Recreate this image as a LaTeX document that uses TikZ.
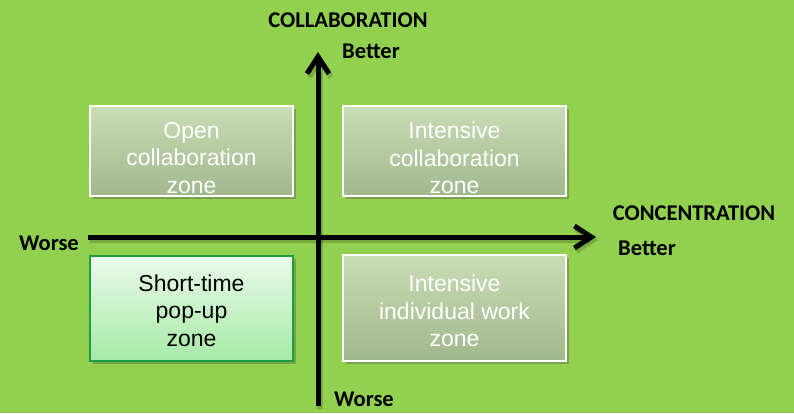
\documentclass[tikz,border=0pt]{standalone}
\usepackage{fontspec}
\setmainfont{Liberation Sans}
\newfontfamily\calfont{Carlito}
\usetikzlibrary{arrows.meta,shadows,calc}
\definecolor{bggreen}{HTML}{92D050}
\definecolor{ztop}{HTML}{CADDB6}
\definecolor{zbot}{HTML}{A1B78C}
\definecolor{stop}{HTML}{EAFAEA}
\definecolor{sbot}{HTML}{A6EAA6}
\definecolor{sborder}{HTML}{1E9E3E}
\tikzset{
  zone/.style={draw=white, line width=1.5pt, top color=ztop, bottom color=zbot,
    drop shadow={shadow xshift=3pt, shadow yshift=-3pt, opacity=0.35, fill=black!70}},
  popzone/.style={draw=sborder, line width=1.5pt, top color=stop, bottom color=sbot,
    drop shadow={shadow xshift=3pt, shadow yshift=-3pt, opacity=0.35, fill=black!70}},
  ztext/.style={align=center, font=\fontsize{23}{27.5}\selectfont, text=white},
  ptext/.style={align=center, font=\fontsize{23}{27.5}\selectfont, text=black},
  axis/.style={line width=5pt, -{Straight Barb[length=17pt,width=22pt,line width=5pt]}},
  axshadow/.style={line width=5.5pt, draw=black, opacity=0.18, -{Straight Barb[length=17pt,width=22pt,line width=5.5pt]}},
  lbl/.style={font=\calfont\bfseries\fontsize{22.5}{26}\selectfont, inner sep=0pt},
}
\begin{document}
\begin{tikzpicture}[x=1pt,y=-1pt]
\fill[bggreen] (0,0) rectangle (794,413);
\useasboundingbox (0,0) rectangle (794,413);

\node[zone, minimum width=203pt, minimum height=90pt, inner sep=0pt] (b1) at (191.5,151) {};
\node[zone, minimum width=223pt, minimum height=90pt, inner sep=0pt] (b2) at (454.5,151) {};
\node[popzone, minimum width=203pt, minimum height=105pt, inner sep=0pt] (b3) at (191.5,308.5) {};
\node[zone, minimum width=223pt, minimum height=106pt, inner sep=0pt] (b4) at (454.5,308) {};

\node[ztext] (t1) at ($(b1.center)+(0,7)$) {Open\\collaboration\\zone};
\node[ztext] (t2) at ($(b2.center)+(0,7)$) {Intensive\\collaboration\\zone};
\node[ptext] (t3) at ($(b3.center)+(0,2)$) {Short-time\\pop-up\\zone};
\node[ztext] (t4) at ($(b4.center)+(0,3)$) {Intensive\\individual work\\zone};

\coordinate (hl) at (88,237);
\coordinate (hr) at (596,237);
\coordinate (vb) at (318,406);
\coordinate (vt) at (318,52);
\draw[axshadow] ($(hl)+(2,3)$) -- ($(hr)+(2,3)$);
\draw[axshadow] ($(vb)+(2,3)$) -- ($(vt)+(2,3)$);
\draw[axis] (hl) -- (hr);
\draw[axis] (vb) -- (vt);

\node[lbl] (collab) at (348,20) {COLLABORATION};
\node[lbl] (bt) at (371,51) {Better};
\node[lbl] (conc) at (694,213) {CONCENTRATION};
\node[lbl] (br) at (647,248) {Better};
\node[lbl] (wl) at (49,243) {Worse};
\node[lbl] (wb) at (364,399) {Worse};
\end{tikzpicture}
\end{document}
